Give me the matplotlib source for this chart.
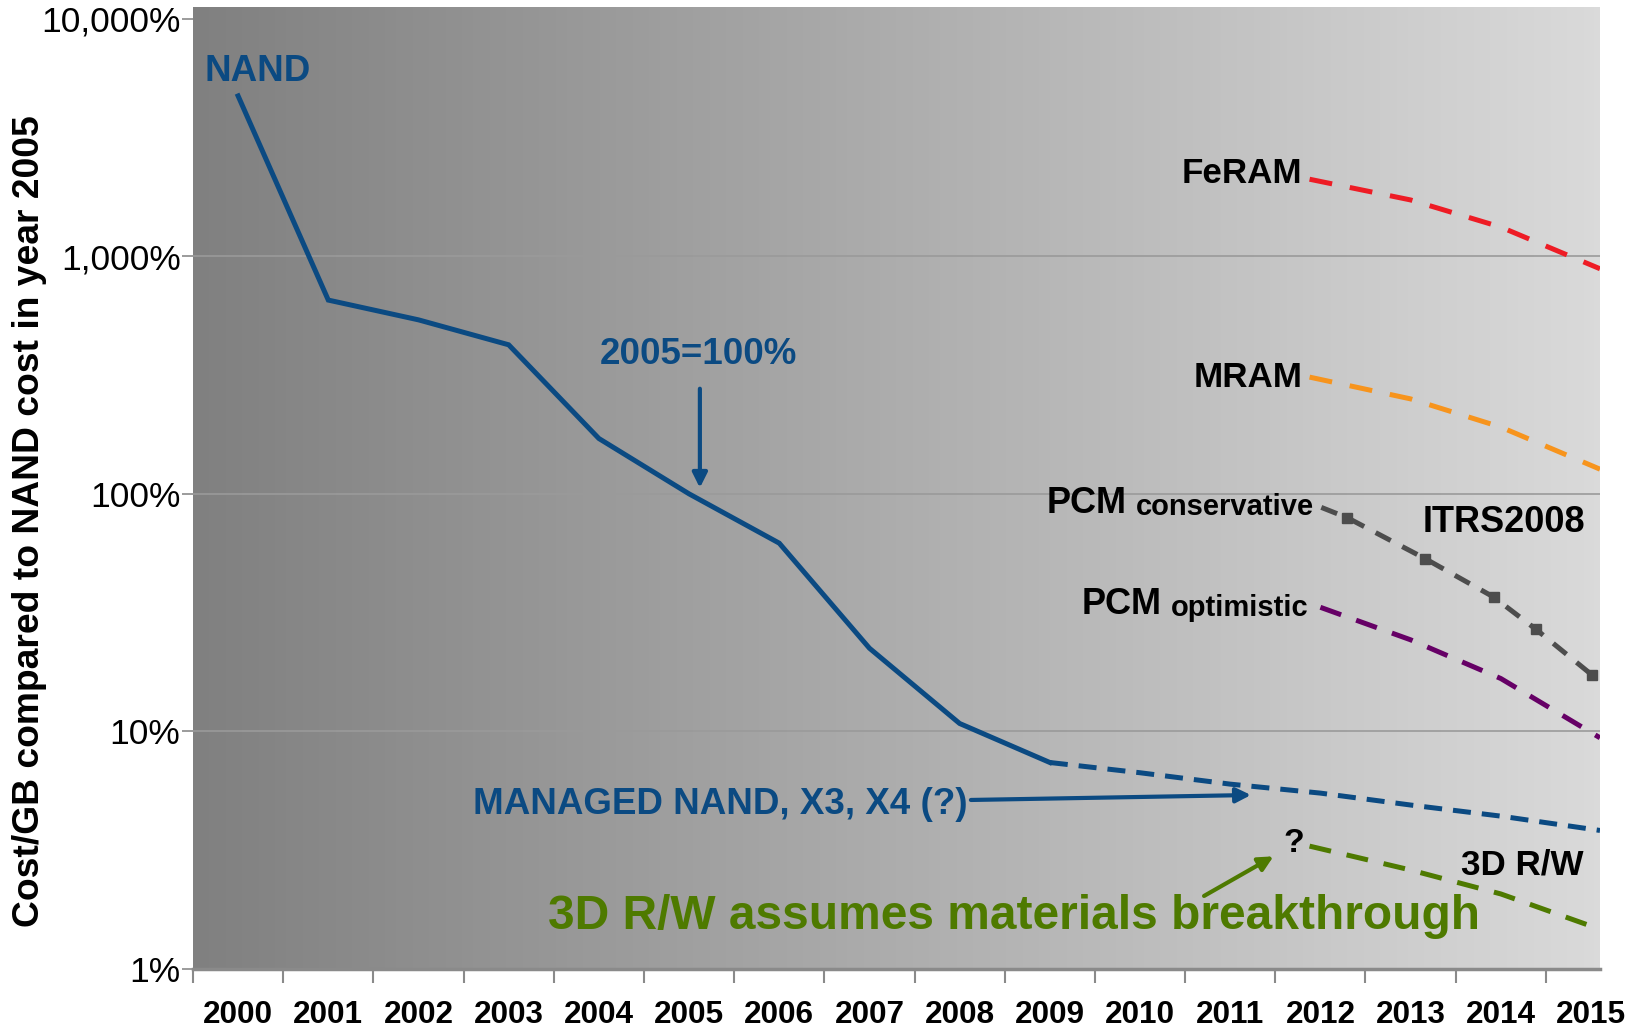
import numpy as np
import matplotlib
matplotlib.use('Agg')
import matplotlib.pyplot as plt
from matplotlib import font_manager
from matplotlib.colors import LinearSegmentedColormap

# ── data (percent of 2005 NAND cost/GB) ─────────────────────────────────────
years = list(range(2000, 2016))
nand_years = [2000, 2001, 2002, 2003, 2004, 2005, 2006, 2007, 2008, 2009]
nand_cost = [4730, 654, 540, 424, 171, 100, 62, 22.4, 10.8, 7.4]
managed_years = [2009, 2010, 2011, 2012, 2013, 2014, 2015.1]
managed_cost = [7.4, 6.7, 6.0, 5.5, 4.9, 4.4, 3.83]

feram_years = [2011.88, 2013, 2014, 2015.1]
feram_cost = [2110, 1726, 1327, 886]
mram_years = [2011.88, 2013, 2014, 2015.1]
mram_cost = [310, 251, 191, 127]
pcm_cons_years = [2012.01, 2012.30, 2013.16, 2013.92, 2014.39, 2015.01]
pcm_cons_cost = [87.7, 79.3, 53.4, 36.8, 26.9, 17.3]
pcm_opt_years = [2012.0, 2013, 2014, 2015.1]
pcm_opt_cost = [33.3, 24.3, 16.7, 9.4]
rw3d_years = [2011.88, 2013, 2014, 2015.1]
rw3d_cost = [3.29, 2.61, 2.07, 1.47]

ytick_vals = [1, 10, 100, 1000, 10000]
ytick_labels = ['1%', '10%', '100%', '1,000%', '10,000%']

BLUE = '#0b4a82'
GREEN = '#4e7a00'

names = {f.name for f in font_manager.fontManager.ttflist}
have_narrow = 'Liberation Sans Narrow' in names
NARROW = ['Liberation Sans Narrow', 'Liberation Sans', 'DejaVu Sans']
WIDE = ['Liberation Sans', 'Arial', 'DejaVu Sans']
k = 1.0 if have_narrow else 0.84   # shrink when no condensed face

plt.rcParams['font.family'] = WIDE

fig = plt.figure(figsize=(16.34, 10.31), dpi=100)
ax = fig.add_axes([193 / 1634, 1 - 969 / 1031, (1600 - 193) / 1634, (969 - 7) / 1031])

# gradient background
cmap = LinearSegmentedColormap.from_list('bg', ['#808080', '#dadada'])
ax.imshow(np.linspace(0, 1, 256)[None, :], cmap=cmap, aspect='auto',
          extent=[0, 1, 0, 1], transform=ax.transAxes, zorder=0)

ax.set_yscale('log')
ax.set_xlim(1999.5, 2015.1)
ax.set_ylim(1, 11200)

for v in [10, 100, 1000]:
    ax.axhline(v, color='#9a9a9a', lw=1.2, zorder=1)

# series
LW = 3.6
ax.plot(nand_years, nand_cost, color=BLUE, lw=LW, zorder=3, solid_joinstyle='miter')
ax.plot(managed_years, managed_cost, color=BLUE, lw=LW, dashes=(3.6, 2.2), zorder=3)
ax.plot(feram_years, feram_cost, color='#ee1c25', lw=LW, dashes=(4.6, 3.6), zorder=3)
ax.plot(mram_years, mram_cost, color='#f7941d', lw=LW, dashes=(4.6, 3.6), zorder=3)
ax.plot(pcm_cons_years, pcm_cons_cost, color='#4d4d4d', lw=LW, dashes=(3.4, 2.6),
        zorder=3)
ax.plot(pcm_cons_years[1:], pcm_cons_cost[1:], ls='none', marker='s', ms=6.5,
        color='#4d4d4d', zorder=4)
ax.plot(pcm_opt_years, pcm_opt_cost, color='#660066', lw=LW, dashes=(4.4, 3.2), zorder=3)
ax.plot(rw3d_years, rw3d_cost, color=GREEN, lw=LW, dashes=(4.4, 3.2), zorder=3)

# axes styling
for s in ['top', 'right', 'left']:
    ax.spines[s].set_visible(False)
ax.spines['bottom'].set_color('#8a8a8a')
ax.spines['bottom'].set_linewidth(2.5)
ax.spines['bottom'].set_zorder(5)

ax.set_yticks(ytick_vals)
ax.set_yticklabels(ytick_labels, fontsize=25.5)
ax.yaxis.set_minor_locator(matplotlib.ticker.NullLocator())
ax.tick_params(axis='y', length=8, width=1.2, color='#8a8a8a', pad=1)

ax.set_xticks([y - 0.5 for y in years])
ax.set_xticklabels([])
ax.set_xticks(years, minor=True)
ax.set_xticklabels([str(y) for y in years], minor=True, fontsize=27 * k,
                   fontweight='bold', family=NARROW)
ax.tick_params(axis='x', which='major', length=10, width=1.5, color='#8a8a8a')
ax.tick_params(axis='x', which='minor', length=0, pad=22)

ax.set_ylabel('Cost/GB compared to NAND cost in year 2005', fontsize=26.8,
              fontweight='bold')
ax.yaxis.set_label_coords(-0.104, 0.466)

# annotations
ax.text(1999.63, 5970, 'NAND', color=BLUE, fontsize=26.5, fontweight='bold',
        ha='left', va='center')
ax.text(2005.10, 387, '2005=100%', color=BLUE, fontsize=26.5, fontweight='bold',
        ha='center', va='center')
ax.annotate('', xy=(2005.12, 106), xytext=(2005.12, 277),
            arrowprops=dict(arrowstyle='-|>', color=BLUE, lw=3, mutation_scale=22,
                            shrinkA=0, shrinkB=0))

nfont = dict(family=NARROW, fontweight='bold')
ax.text(2011.80, 2220, 'FeRAM', fontsize=30 * k, ha='right', va='center', **nfont)
ax.text(2011.80, 310, 'MRAM', fontsize=30 * k, ha='right', va='center', **nfont)

cons = ax.text(2011.93, 81.7, 'conservative', fontsize=25 * k, ha='right',
               va='baseline', **nfont)
ax.annotate('PCM', xy=(0, 0), xycoords=cons, xytext=(-7, 0), textcoords='offset points',
            fontsize=31 * k, ha='right', va='bottom', **nfont)
opt = ax.text(2011.87, 30.7, 'optimistic', fontsize=25 * k, ha='right',
              va='baseline', **nfont)
ax.annotate('PCM', xy=(0, 0), xycoords=opt, xytext=(-7, 0), textcoords='offset points',
            fontsize=31 * k, ha='right', va='bottom', **nfont)

ax.text(2014.03, 75.4, 'ITRS2008', fontsize=31 * k, ha='center', va='center', **nfont)
ax.text(2011.70, 3.36, '?', fontsize=29 * k, ha='center', va='center', **nfont)
ax.text(2014.92, 2.75, '3D R/W', fontsize=30 * k, ha='right', va='center', **nfont)

ax.annotate('MANAGED NAND, X3, X4 (?)', xy=(2011.23, 5.40), xytext=(2002.61, 4.93),
            color=BLUE, fontsize=31.5 * k, ha='left', va='center', **nfont,
            arrowprops=dict(arrowstyle='-|>', color=BLUE, lw=3, mutation_scale=22,
                            shrinkA=0, shrinkB=0))

ax.text(2008.60, 1.66, '3D R/W assumes materials breakthrough', color=GREEN,
        fontsize=41 * k, ha='center', va='center', **nfont)
ax.annotate('', xy=(2011.48, 2.98), xytext=(2010.71, 2.03),
            arrowprops=dict(arrowstyle='-|>', color=GREEN, lw=3, mutation_scale=22,
                            shrinkA=0, shrinkB=0))

fig.savefig('out.png', dpi=100)
